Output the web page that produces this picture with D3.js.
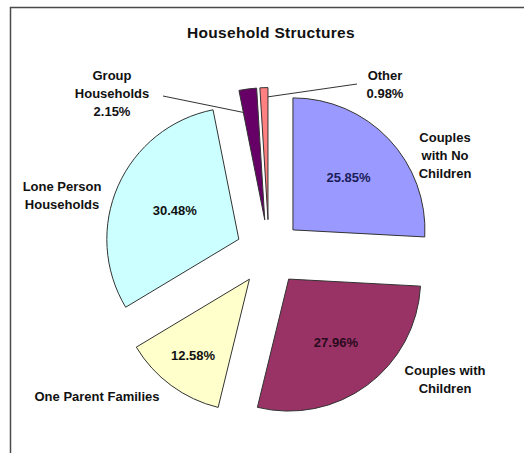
<!DOCTYPE html>
<html>
<head>
<meta charset="utf-8">
<script src="https://cdn.jsdelivr.net/npm/d3@7"></script>
<style>
html,body{margin:0;padding:0;background:#fff;overflow:hidden;}
svg{display:block;font-family:"Liberation Sans",Arial,sans-serif;}
</style>
</head>
<body>
<svg id="chart" width="524" height="453"></svg>
<script>
// ---- data ----
const title = "Household Structures";
const categories = ["Couples with No Children","Couples with Children","One Parent Families","Lone Person Households","Group Households","Other"];
const values = [25.85, 27.96, 12.58, 30.48, 2.15, 0.98];
const colors = ["#9999ff","#993366","#ffffcc","#ccffff","#660066","#ff8080"];
const nameLines = [["Couples","with No","Children"],["Couples with","Children"],["One Parent Families"],["Lone Person","Households"],["Group","Households"],["Other"]];
const insideLabel = [true, true, true, true, false, false];

// ---- layout ----
const W = 524, H = 453;
const cx = 269, cy = 252.6, R = 132, explode = 33;
const insideFrac = [0.58, 0.6, 0.72, 0.53, 0, 0];
// outer label anchors (center of text block, first line y)
const outer = [
  {x:445, y:137},
  {x:445, y:370},
  {x:97,  y:396},
  {x:62,  y:186},
  {x:112, y:75, lineFrom:[163,96], edge:"start", frac:0.83},
  {x:385, y:75, lineFrom:[357,84], edge:"end", frac:0.93}
];
const lineH = 18;

const svg = d3.select("#chart");
svg.append("rect").attr("x",10.5).attr("y",7.5).attr("width",560).attr("height",500)
  .attr("fill","#fff").attr("stroke","#4a4a4a").attr("stroke-width",1.5);

svg.append("text").attr("x",271).attr("y",38).attr("text-anchor","middle")
  .attr("font-size",15.5).attr("letter-spacing",0.3).attr("font-weight","bold").attr("fill","#111").text(title);

const pie = d3.pie().sort(null).value(d=>d)(values);
const arc = d3.arc().innerRadius(0).outerRadius(R);

const g = svg.append("g");
pie.forEach((p,i)=>{
  const mid = (p.startAngle+p.endAngle)/2;
  const ox = cx + explode*Math.sin(mid), oy = cy - explode*Math.cos(mid);
  g.append("path").attr("d",arc(p)).attr("transform",`translate(${ox},${oy})`)
    .attr("fill",colors[i]).attr("stroke","#333").attr("stroke-width",1);
  if (insideLabel[i]) {
    const rr = R*insideFrac[i];
    svg.append("text").attr("x",ox+rr*Math.sin(mid)).attr("y",oy-rr*Math.cos(mid)+4.5)
      .attr("text-anchor","middle").attr("font-size",13).attr("font-weight","bold")
      .attr("fill", i===0 ? "#1c1c5a" : (i===1 ? "#2a0a1c" : "#111"))
      .text(values[i].toFixed(2)+"%");
  }
  const o = outer[i];
  const lines = insideLabel[i] ? nameLines[i] : nameLines[i].concat([values[i].toFixed(2)+"%"]);
  lines.forEach((t,k)=>{
    svg.append("text").attr("x",o.x).attr("y",o.y+k*lineH+4.5).attr("text-anchor","middle")
      .attr("font-size",13).attr("font-weight","bold").attr("fill","#111").text(t);
  });
  if (o.lineFrom) {
    const a = o.edge==="start" ? p.startAngle : p.endAngle;
    const er = R*o.frac;
    svg.append("line").attr("x1",o.lineFrom[0]).attr("y1",o.lineFrom[1])
      .attr("x2",ox+er*Math.sin(a)).attr("y2",oy-er*Math.cos(a))
      .attr("stroke","#333").attr("stroke-width",1);
  }
});
</script>
</body>
</html>
